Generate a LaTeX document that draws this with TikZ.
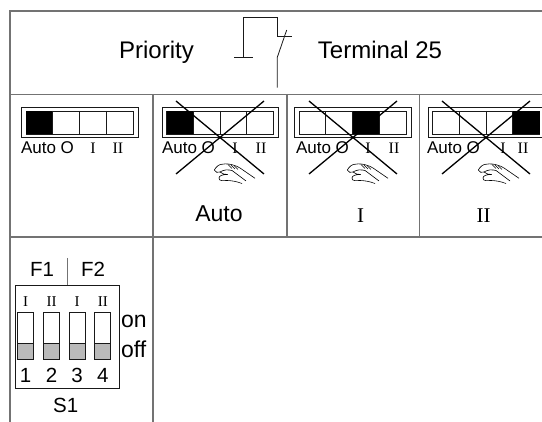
\documentclass[tikz,border=0pt]{standalone}
\usepackage{fontspec}
\setmainfont{Liberation Sans}
\newfontfamily\serifb{Liberation Serif}
\newcommand{\fsz}[1]{\fontsize{#1}{#1}\selectfont}
\tikzset{
  grid/.style={draw=black!55,line width=1.5pt},
  thin line/.style={draw=black!90,line width=0.9pt},
  crossline/.style={draw=black,line width=1.3pt},
  txt/.style={inner sep=0pt,anchor=base},
  big/.style={txt,font=\fsz{24}},
  auto big/.style={txt,font=\fsz{23}},
  lab/.style={txt,font=\fsz{17}},
  rom/.style={txt,font=\serifb\fsz{16}},
  bigrom/.style={txt,font=\serifb\fsz{21}},
  mid/.style={txt,font=\fsz{20.5}},
  tiny/.style={txt,font=\serifb\fsz{15}},
  hand/.pic={
    \begin{scope}[black,line width=0.6pt,line join=round]
    \draw (-7.7,-5) .. controls (-6,-8) and (-3,-10.7) .. (-0.3,-10.7)
      .. controls (4,-11.5) and (8,-11) .. (11,-10) .. controls (14,-9) and (16,-8.5) .. (18,-7) -- (33,3.3);
    \draw (-7.7,-5) .. controls (-7,-2.5) and (-4,-2) .. (-2,-3)
      .. controls (2,-5.5) and (6,-5.5) .. (10,-4.5) -- (24,6);
    \draw (-2,-3) .. controls (0,-1) and (3,-0.5) .. (5.5,-0.5)
      .. controls (1,-0.5) and (-3,0.5) .. (-3,3) .. controls (-3,6.5) and (1,5.5) .. (5,5.5)
      .. controls (9,5.5) and (15,6.5) .. (20,8.5);
    \draw[line width=0.5pt] (6,-10.5) -- (10,-6.5) (9,-10) -- (13,-6) (12,-9.5) -- (16,-5.5);
    \end{scope}
  },
}
\begin{document}
\begin{tikzpicture}[x=1pt,y=-1pt]
\useasboundingbox (0,0) rectangle (542,422);
% table
\draw[grid] (10,11) -- (542,11);
\draw[grid] (10,94.5) -- (542,94.5);
\draw[grid] (10,237) -- (542,237);
\draw[grid] (10,10.25) -- (10,422);
\draw[grid,line width=1.1pt] (153,94) -- (153,422);
\draw[grid,line width=1.1pt] (287,94) -- (287,237);
\draw[grid,line width=1.1pt] (419.5,94) -- (419.5,237);
% header
\node[big] (prio) at (156.5,58.3) {Priority};
\node[big] (term) at (380,58.3) {Terminal 25};
\draw[thin line,line width=0.8pt] (234,57.3) -- (253,57.3);
\draw[thin line,line width=0.8pt] (243.3,57.3) -- (243.3,17.3) -- (277.3,17.3) -- (277.3,36) -- (291.7,36);
\draw[thin line,line width=0.8pt] (286.7,30) -- (277.3,57.3) -- (277.3,87.7);
% selector switches
\foreach \ox/\blk in {0/0,140.6/0,273/2,406.5/3}{
  \begin{scope}[xshift=\ox pt]
    \draw[thin line] (21.7,107) rectangle (138,137);
    \draw[thin line] (26,111) rectangle (133,134);
    \fill[black] ({26+\blk*26.75},111) rectangle ({26+(\blk+1)*26.75},134);
    \draw[thin line] (52.75,111) -- (52.75,134) (79.5,111) -- (79.5,134) (106.25,111) -- (106.25,134);
  \end{scope}
}
% cell 1 labels
\node[lab] (a1) at (47.5,154) {Auto O};
\node[rom] (a1i) at (93,154) {I};
\node[rom] (a1ii) at (118,154) {II};
% cell 2
\node[lab] (a2) at (188.5,154) {Auto O};
\node[rom] (a2i) at (235,154) {I};
\node[rom] (a2ii) at (261,154) {II};
\draw[crossline] (176,101) -- (264,174) (176,174) -- (264,101);
\pic at (222,175) {hand};
\node[auto big] (t2) at (219,222) {Auto};
% cell 3
\node[lab] (a3) at (322.5,154) {Auto O};
\node[rom] (a3i) at (368,154) {I};
\node[rom] (a3ii) at (394,154) {II};
\draw[crossline] (309,101) -- (397,174) (309,174) -- (397,101);
\pic at (355,175) {hand};
\node[bigrom] (t3) at (360.5,223) {I};
% cell 4
\node[lab] (a4) at (453.5,154) {Auto O};
\node[rom] (a4i) at (503,154) {I};
\node[rom] (a4ii) at (523,154) {II};
\draw[crossline] (442,101) -- (530,174) (442,174) -- (530,101);
\pic at (486,175) {hand};
\node[bigrom] (t4) at (483.5,223) {II};
% DIP panel
\node[mid] (f1) at (42,277) {F1};
\node[mid] (f2) at (93,277) {F2};
\draw[grid,line width=0.8pt] (67,258) -- (67,286);
\draw[thin line,line width=1pt] (15,286) rectangle (119,389);
\foreach \x/\r/\d in {25.7/I/1,51.5/II/2,77.2/I/3,102.8/II/4}{
  \node[tiny] at (\x,306.7) {\r};
  \fill[black!27] (\x-8,343) rectangle (\x+8,359);
  \draw[thin line] (\x-8,312.3) rectangle (\x+8,359);
  \draw[thin line] (\x-8,343) -- (\x+8,343);
  \node[mid] at (\x,382.7) {\d};
}
\node[txt,font=\fsz{23},anchor=base west] (on) at (121,328) {on};
\node[txt,font=\fsz{23},anchor=base west] (off) at (121,358) {off};
\node[mid] (s1) at (65.7,412.7) {S1};
\end{tikzpicture}
\end{document}
